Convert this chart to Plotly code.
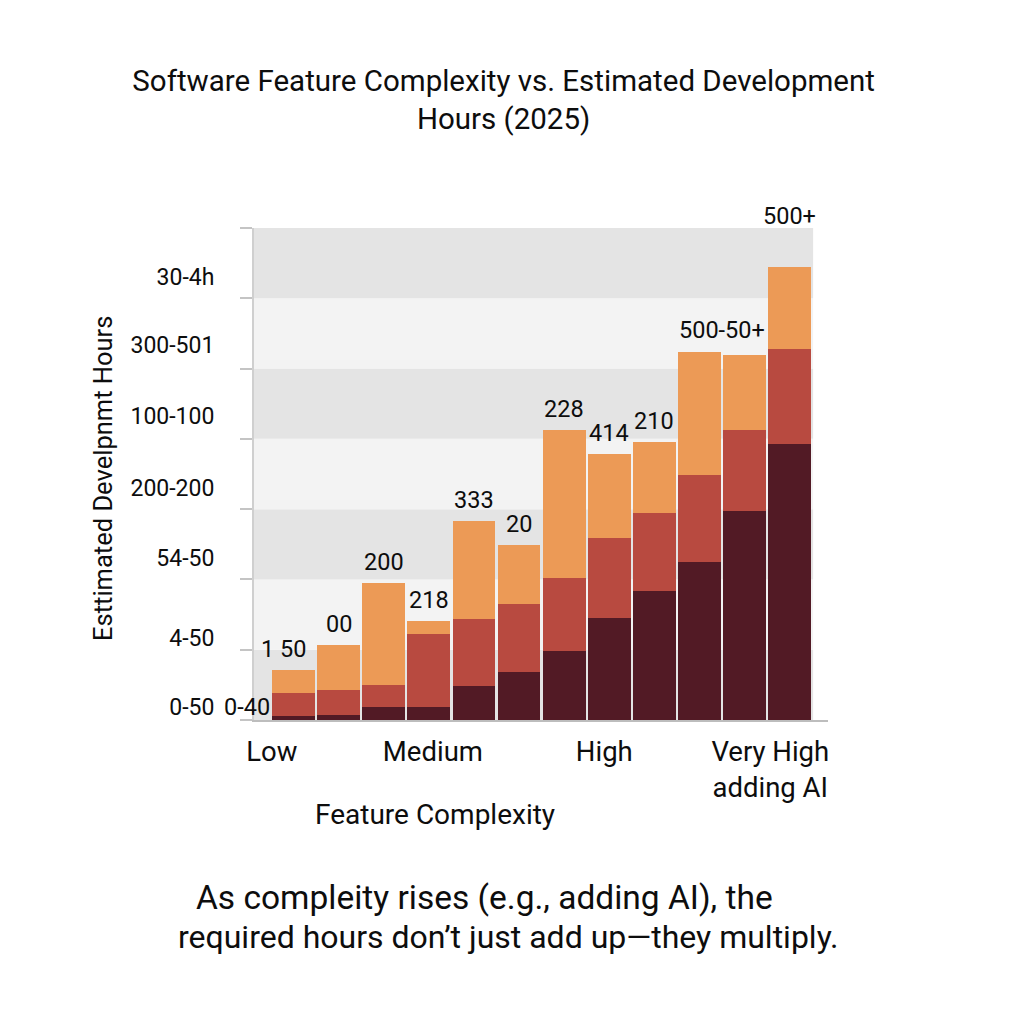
import plotly.graph_objects as go

# values (hours, stacked)
bar_index = list(range(12))
base_hours = [5, 7, 18, 18, 49, 69, 98, 145, 183, 225, 297, 392]
mid_hours = [33, 36, 32, 105, 94, 96, 104, 114, 111, 124, 116, 136]
top_hours = [33, 64, 145, 18, 140, 84, 210, 119, 101, 174, 107, 116]

bar_labels = ["1 50", "00", "200", "218", "333", "20", "228", "414", "210", "", "", "500+"]
pair_label = "500-50+"

tier_names = ["Low", "Medium", "High", "Very High<br>adding AI"]
tier_pos = [-0.48, 3.09, 6.89, 10.57]

ytick_vals = [18, 117, 231, 330, 432, 533, 630]
ytick_text = ["0-50", "4-50", "54-50", "200-200", "100-100", "300-501", "30-4h"]
band_edges = [0, 100, 200, 300, 400, 500, 600, 700]

FONT = "Roboto"
INK = "#0d0d0d"
DARK = "#521a25"
RED = "#b84a40"
ORANGE = "#ec9a56"

fig = go.Figure()
for vals, col in [(base_hours, DARK), (mid_hours, RED), (top_hours, ORANGE)]:
    fig.add_trace(go.Bar(x=bar_index, y=vals, marker=dict(color=col, line=dict(width=0)),
                         showlegend=False, hoverinfo="skip"))

# alternating background bands
for i in range(len(band_edges) - 1):
    fig.add_shape(type="rect", xref="x", yref="y", x0=-0.876, x1=11.52,
                  y0=band_edges[i], y1=band_edges[i + 1], layer="below", line=dict(width=0),
                  fillcolor="#e4e4e4" if i % 2 == 0 else "#f3f3f3")

totals = [a + b + c for a, b, c in zip(base_hours, mid_hours, top_hours)]
lab_font = dict(size=23.5, color=INK, family=FONT)
annotations = []
for i, txt in enumerate(bar_labels):
    if not txt:
        continue
    annotations.append(dict(x=i, y=totals[i], text=txt, showarrow=False,
                            xanchor="center", yanchor="middle",
                            yshift=51 if i == 11 else 21, xshift=-10 if i == 0 else 0,
                            font=lab_font))
annotations.append(dict(x=9.5, y=max(totals[9], totals[10]), text=pair_label, showarrow=False,
                        xanchor="center", yanchor="middle", yshift=22, font=lab_font))
annotations.append(dict(xref="paper", yref="y", x=-0.012, y=ytick_vals[0], text="0-40",
                        showarrow=False, xanchor="center", yanchor="middle", font=lab_font))

annotations += [
    dict(xref="paper", yref="paper", x=-0.263, y=0.49, text="Esttimated Develpnmt Hours",
         textangle=-90, showarrow=False, xanchor="center", yanchor="middle",
         font=dict(size=25.5, color=INK, family=FONT)),
    dict(xref="paper", yref="paper", x=0.315, y=-0.193, text="Feature Complexity",
         showarrow=False, xanchor="center", yanchor="middle",
         font=dict(size=28, color=INK, family=FONT)),
    dict(xref="paper", yref="paper", x=0.401, y=-0.36, text="As compleity rises (e.g., adding AI), the",
         showarrow=False, xanchor="center", yanchor="middle",
         font=dict(size=33.5, color=INK, family=FONT)),
    dict(xref="paper", yref="paper", x=0.444, y=-0.441,
         text="required hours don\u2019t just add up\u2014they multiply.",
         showarrow=False, xanchor="center", yanchor="middle",
         font=dict(size=32, color=INK, family=FONT)),
]

fig.update_layout(
    width=1024, height=1024,
    margin=dict(l=246, r=204, t=220, b=312),
    paper_bgcolor="white", plot_bgcolor="white",
    barmode="stack", bargap=0.05,
    font=dict(family=FONT, color=INK),
    title=dict(text="Software Feature Complexity vs. Estimated Development<br>Hours (2025)",
               x=0.484, xanchor="center", y=0.919, yanchor="top",
               font=dict(size=29.5, color=INK, family=FONT)),
    xaxis=dict(range=[-0.876, 11.85], tickvals=tier_pos, ticktext=tier_names,
               ticks="outside", ticklen=6, tickcolor="rgba(0,0,0,0)",
               tickfont=dict(size=27.5, color=INK, family=FONT),
               showline=True, linecolor="#bdbdbd", linewidth=2, showgrid=False, zeroline=False),
    yaxis=dict(range=[0, 700], tickvals=band_edges, showticklabels=False,
               ticks="outside", ticklen=12, tickcolor="#c4c4c4", tickwidth=1.5,
               showline=True, linecolor="#cfcfcf", linewidth=1.5, showgrid=False, zeroline=False),
    yaxis2=dict(range=[0, 700], overlaying="y", side="left", anchor="x",
                tickvals=ytick_vals, ticktext=ytick_text, ticks="outside", ticklen=34,
                tickcolor="rgba(0,0,0,0)", tickfont=dict(size=23, color=INK, family=FONT),
                showgrid=False, zeroline=False, showline=False),
    annotations=annotations,
)
# dummy trace so the label axis is drawn
fig.add_trace(go.Scatter(x=[None], y=[None], yaxis="y2", showlegend=False, hoverinfo="skip"))

fig.write_html("out.html")
